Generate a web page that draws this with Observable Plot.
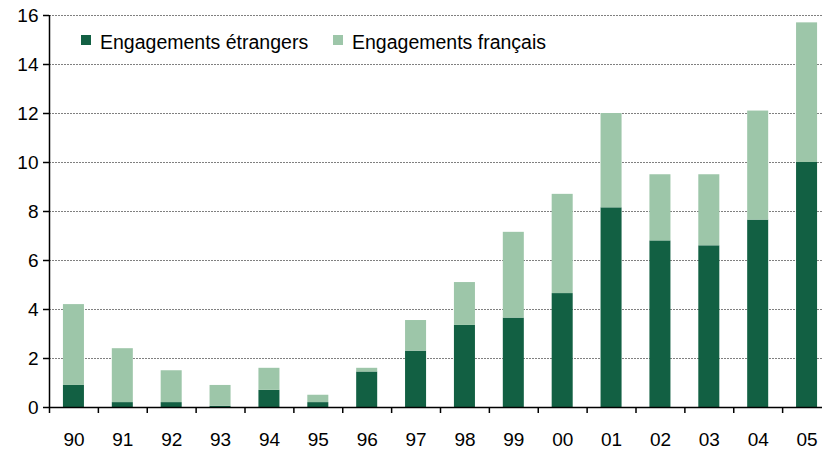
<!DOCTYPE html>
<html>
<head>
<meta charset="utf-8">
<script src="https://cdn.jsdelivr.net/npm/d3@7"></script>
<script src="https://cdn.jsdelivr.net/npm/@observablehq/plot@0.6"></script>
<style>
  body { margin: 0; background: #fff; }
  #chart { position: relative; width: 822px; height: 450px; font-family: "Liberation Sans", Arial, sans-serif; }
  .leg { position: absolute; display: flex; align-items: center; font-size: 19.5px; color: #000; white-space: nowrap; }
  .sw { width: 10px; height: 10px; display: inline-block; margin-right: 9px; position: relative; top: -3px; }
</style>
</head>
<body>
<div id="chart"></div>
<script>
const years = ["90","91","92","93","94","95","96","97","98","99","00","01","02","03","04","05"];
const etrangers = [0.9, 0.2, 0.2, 0.05, 0.7, 0.2, 1.45, 2.3, 3.35, 3.65, 4.65, 8.15, 6.8, 6.6, 7.65, 10.0];
const francais  = [3.3, 2.2, 1.3, 0.85, 0.9, 0.3, 0.15, 1.25, 1.75, 3.5, 4.05, 3.85, 2.7, 2.9, 4.45, 5.7];
const seriesNames = ["Engagements étrangers", "Engagements français"];
const seriesColors = ["#126043", "#9dc6a9"];
const yTicks = [0, 2, 4, 6, 8, 10, 12, 14, 16];

const rows = [];
years.forEach((yr, i) => {
  rows.push({year: yr, series: seriesNames[0], value: etrangers[i]});
  rows.push({year: yr, series: seriesNames[1], value: francais[i]});
});

const W = 822, H = 450;
const xRange = [49, 831];
const step = (xRange[1] - xRange[0]) / years.length;

const chart = Plot.plot({
  width: W,
  height: H,
  marginLeft: 49,
  marginRight: 0,
  marginTop: 15,
  marginBottom: 43,
  style: {fontFamily: "'Liberation Sans', Arial, sans-serif", fontSize: "19px", color: "#000", background: "#fff"},
  x: {type: "band", domain: years, range: xRange, round: false, paddingInner: 0.57, paddingOuter: 0.285, label: null},
  y: {domain: [0, 16], label: null},
  color: {domain: seriesNames, range: seriesColors},
  marks: [
    Plot.gridY(yTicks.filter(d => d > 0), {stroke: "#808080", strokeOpacity: 1, strokeDasharray: "2,1", strokeWidth: 1}),
    Plot.barY(rows, {x: "year", y: "value", fill: "series", order: seriesNames}),
    Plot.ruleY([0], {stroke: "#000", strokeWidth: 1.5}),
    Plot.ruleX([years[0]], {x: d => d, y1: 0, y2: 16, dx: -step / 2, stroke: "#000", strokeWidth: 1.5}),
    Plot.axisY({ticks: yTicks, tickSize: 6, tickPadding: 5, strokeWidth: 1.5, tickFormat: d => d}),
    Plot.axisX({tickSize: 6, tickFormat: () => "", dx: -step / 2, strokeWidth: 1.5}),
    Plot.axisX({tickSize: 0, tickPadding: 25})
  ]
});

const root = document.getElementById("chart");
root.appendChild(chart);

const legendPos = [{left: 81, top: 31}, {left: 333, top: 31}];
seriesNames.forEach((name, i) => {
  const item = document.createElement("div");
  item.className = "leg";
  item.style.left = legendPos[i].left + "px";
  item.style.top = legendPos[i].top + "px";
  const sw = document.createElement("span");
  sw.className = "sw";
  sw.style.background = seriesColors[i];
  item.appendChild(sw);
  item.appendChild(document.createTextNode(name));
  root.appendChild(item);
});
</script>
</body>
</html>
